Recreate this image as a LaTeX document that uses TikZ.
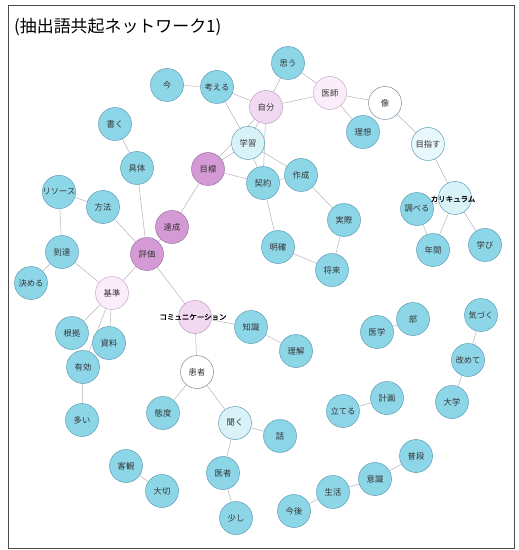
\documentclass[tikz,border=0pt]{standalone}
\usepackage{fontspec}
\newfontfamily\jp{Noto Sans CJK JP}
\newfontfamily\jpb[FakeBold=1.2]{Noto Sans CJK JP}
\usetikzlibrary{backgrounds}
\definecolor{cyfill}{HTML}{8DD6E8}
\definecolor{cydraw}{HTML}{5C9DB4}
\definecolor{magfill}{HTML}{D49AD5}
\definecolor{magdraw}{HTML}{9C72A4}
\definecolor{lpkfill}{HTML}{F2D9F2}
\definecolor{vlpkfill}{HTML}{FBEEFA}
\definecolor{lcyfill}{HTML}{D9F2F8}
\definecolor{edgecol}{HTML}{B4B4B4}
\definecolor{whdraw}{HTML}{7A8C9C}
\tikzset{
  wn/.style={circle, draw=cydraw, line width=0.5pt, minimum size=33bp, inner sep=0pt,
             font=\jp\fontsize{8.3}{9}\selectfont, text=black!80},
  cy/.style={wn, fill=cyfill},
  mag/.style={wn, fill=magfill, draw=magdraw},
  lpk/.style={wn, fill=lpkfill, draw=magdraw!70},
  vlpk/.style={wn, fill=vlpkfill, draw=magdraw!60},
  lcy/.style={wn, fill=lcyfill},
  wht/.style={wn, fill=white, draw=whdraw},
  big/.style={font=\jpb\fontsize{7.5}{8}\selectfont, text=black, inner sep=0pt},
  ed/.style={draw=edgecol, line width=0.5pt}
}
\begin{document}
\begin{tikzpicture}[x=1bp,y=-1bp]
\useasboundingbox (0,0) rectangle (519,550);
\draw[black!70, line width=0.8pt] (8,5) rectangle (514,548);
\node[anchor=west, font=\jp\fontsize{17}{18}\selectfont, inner sep=0pt] (title) at (14,27) {(抽出語共起ネットワーク1)};

\node[cy] (ima) at (167,85) {今};
\node[cy] (kangaeru) at (217,87) {考える};
\node[cy] (omou) at (288,63) {思う};
\node[lpk] (jibun) at (266,107) {自分};
\node[vlpk] (ishi) at (330,93) {医師};
\node[wht] (zou) at (385,103) {像};
\node[cy] (risou) at (363,132) {理想};
\node[lcy, fill=lcyfill!60] (mezasu) at (428,144) {目指す};
\node[cy] (kaku) at (115,124) {書く};
\node[lcy] (gakushu) at (248,143) {学習};
\node[mag] (mokuhyo) at (208,169) {目標};
\node[cy] (keiyaku) at (263,183) {契約};
\node[cy] (sakusei) at (301,175) {作成};
\node[cy] (gutai) at (137,168) {具体};
\node[cy] (resource) at (59,192) {リソース};
\node[cy] (houhou) at (103,207) {方法};
\node[mag] (tassei) at (172,227) {達成};
\node[cy] (jissai) at (344,220) {実際};
\node[cy] (shiraberu) at (417,209) {調べる};
\node[lcy] (curric) at (455,198) {};
\node[cy] (toutatsu) at (62,252) {到達};
\node[mag] (hyouka) at (147,254) {評価};
\node[cy] (meikaku) at (278,247) {明確};
\node[cy] (nenkan) at (433,250) {年間};
\node[cy] (manabi) at (485,245) {学び};
\node[cy] (shourai) at (332,270) {将来};
\node[cy] (kimeru) at (31,283) {決める};
\node[vlpk] (kijun) at (112,293) {基準};
\node[lpk] (comm) at (195,317) {};
\node[cy] (chishiki) at (251,327) {知識};
\node[cy] (konkyo) at (72,333) {根拠};
\node[cy] (shiryou) at (109,343) {資料};
\node[cy] (igaku) at (377,332) {医学};
\node[cy] (bu) at (413,319) {部};
\node[cy] (kizuku) at (481,315) {気づく};
\node[cy] (rikai) at (296,351) {理解};
\node[cy] (aratamete) at (468,360) {改めて};
\node[cy] (yuukou) at (83,367) {有効};
\node[wht] (kanja) at (197,372) {患者};
\node[cy] (keikaku) at (387,398) {計画};
\node[cy] (tateru) at (343,411) {立てる};
\node[cy] (daigaku) at (452,402) {大学};
\node[cy] (taido) at (163,413) {態度};
\node[lcy] (kiku) at (235,423) {聞く};
\node[cy] (ooi) at (82,420) {多い};
\node[cy] (hanashi) at (280,436) {話};
\node[cy] (fudan) at (416,456) {普段};
\node[cy] (kyakkan) at (126,466) {客観};
\node[cy] (isha) at (223,473) {医者};
\node[cy] (ishiki) at (375,479) {意識};
\node[cy] (seikatsu) at (333,492) {生活};
\node[cy] (taisetsu) at (162,491) {大切};
\node[cy] (kongo) at (294,511) {今後};
\node[cy] (sukoshi) at (236,518) {少し};

\node[big] (curriclabel) at (453,199) {カリキュラム};
\node[big] (commlabel) at (193,317) {コミュニケーション};

\begin{pgfonlayer}{background}
\path[ed]
  (ima) -- (kangaeru)
  (kangaeru) -- (jibun)
  (kangaeru) -- (gakushu)
  (omou) -- (jibun)
  (omou) -- (ishi)
  (jibun) -- (ishi)
  (ishi) -- (zou)
  (ishi) -- (risou)
  (zou) -- (mezasu)
  (mezasu) -- (curric)
  (curric) -- (shiraberu)
  (curric) -- (nenkan)
  (curric) -- (manabi)
  (shiraberu) -- (nenkan)
  (jibun) -- (gakushu)
  (jibun) -- (keiyaku)
  (mokuhyo) -- (jibun)
  (mokuhyo) -- (gakushu)
  (gakushu) -- (sakusei)
  (gakushu) -- (keiyaku)
  (mokuhyo) -- (keiyaku)
  (keiyaku) -- (sakusei)
  (sakusei) -- (jissai)
  (jissai) -- (shourai)
  (meikaku) -- (shourai)
  (keiyaku) -- (meikaku)
  (mokuhyo) -- (tassei)
  (tassei) -- (hyouka)
  (hyouka) -- (gutai)
  (gutai) -- (kaku)
  (hyouka) -- (houhou)
  (houhou) -- (resource)
  (resource) -- (toutatsu)
  (toutatsu) -- (kimeru)
  (toutatsu) -- (kijun)
  (hyouka) -- (kijun)
  (hyouka) -- (comm)
  (kijun) -- (konkyo)
  (kijun) -- (shiryou)
  (kijun) -- (yuukou)
  (yuukou) -- (ooi)
  (comm) -- (chishiki)
  (chishiki) -- (rikai)
  (comm) -- (kanja)
  (kanja) -- (taido)
  (kanja) -- (kiku)
  (kiku) -- (hanashi)
  (kiku) -- (isha)
  (isha) -- (sukoshi)
  (kyakkan) -- (taisetsu)
  (igaku) -- (bu)
  (kizuku) -- (aratamete)
  (aratamete) -- (daigaku)
  (tateru) -- (keikaku)
  (kongo) -- (seikatsu)
  (seikatsu) -- (ishiki)
  (ishiki) -- (fudan);
\end{pgfonlayer}
\end{tikzpicture}
\end{document}
